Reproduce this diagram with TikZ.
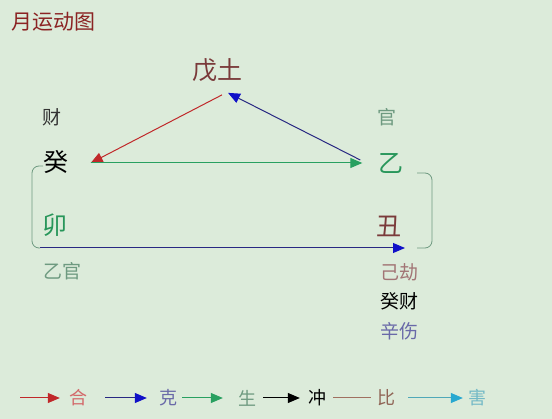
\documentclass[tikz,border=0pt]{standalone}
\usepackage{fontspec}
\setmainfont{Noto Sans CJK SC}
\usetikzlibrary{arrows.meta,calc}

\definecolor{bgmint}{RGB}{220,235,218}
\definecolor{titlered}{RGB}{139,35,35}
\definecolor{earthbrown}{RGB}{122,58,58}
\definecolor{woodgreen}{RGB}{40,150,90}
\definecolor{palegreen}{RGB}{110,154,128}
\definecolor{hered}{RGB}{192,40,42}
\definecolor{kenavy}{RGB}{40,40,130}
\definecolor{keblue}{RGB}{16,16,200}
\definecolor{shenggreen}{RGB}{40,160,96}
\definecolor{bibrown}{RGB}{160,112,96}
\definecolor{haicyan}{RGB}{80,168,184}
\definecolor{haihead}{RGB}{40,168,208}

\begin{document}
\begin{tikzpicture}[x=1pt,y=-1pt,
        big/.style={font=\fontsize{25}{25}\selectfont,inner sep=1pt},
        small/.style={font=\fontsize{19}{19}\selectfont,inner sep=1pt},
        legendtxt/.style={font=\fontsize{18}{18}\selectfont,inner sep=1pt},
        arrHe/.style={hered,line width=1pt,-{Triangle[length=12pt,width=10pt,color=hered]}},
        arrKe/.style={kenavy,line width=1pt,-{Triangle[length=12pt,width=10pt,color=keblue]}},
        arrSheng/.style={shenggreen,line width=1pt,-{Triangle[length=12pt,width=10pt]}},
        arrChong/.style={black,line width=1pt,-{Triangle[length=12pt,width=10pt]}},
        lineBi/.style={bibrown,line width=1pt},
        arrHai/.style={haicyan,line width=1pt,-{Triangle[length=12pt,width=10pt,color=haihead]}},
        brk/.style={palegreen,line width=0.8pt,rounded corners=7pt}]

        \fill[bgmint] (0,0) rectangle (552,419);
        \useasboundingbox (0,0) rectangle (552,419);

        \node[font=\fontsize{21}{21}\selectfont,text=titlered] (title) at (54,22) {月运动图};

        \node[big,text=earthbrown] (wutu) at (217,70) {戊土};
        \node[small,text=black!80] (cai) at (52,117) {财};
        \node[big,text=black] (gui) at (56,162) {癸};
        \node[small,text=palegreen] (guan) at (387,117) {官};
        \node[big,text=woodgreen] (yi) at (391,163) {乙};
        \node[big,text=woodgreen] (mao) at (55,225) {卯};
        \node[big,text=earthbrown] (chou) at (389,226) {丑};

        \node[small,text=palegreen] (yiguan) at (62,271) {乙官};
        \node[small,text=earthbrown!70] (jijie) at (399,272) {己劫};
        \node[small,text=black] (guicai) at (399,301) {癸财};
        \node[small,text=kenavy!70] (xinshang) at (399,331) {辛伤};

        \draw[arrHe] ($(wutu.south)+(5,12)$) -- ($(gui.east)+(21,1)$);
        \draw[arrKe] ($(yi.west)+(-17,-3)$) -- ($(wutu.south)+(11,10)$);
        \draw[arrSheng] ($(gui.east)+(21,1)$) -- ($(yi.west)+(-15,0)$);

        \coordinate (lowL) at (40,248);
        \coordinate (lowR) at (405,248);
        \draw[arrKe] (lowL) -- (lowR);

        \draw[brk] (43,166) -- (32,166) -- (32,248) -- (lowL);
        \draw[brk] (417,173) -- (432,173) -- (432,248) -- (417,248);

        \node[legendtxt,text=hered!70] (he) at (78,398) {合};
        \node[legendtxt,text=kenavy!70] (ke) at (168,398) {克};
        \node[legendtxt,text=palegreen] (sheng) at (247,398) {生};
        \node[legendtxt,text=black] (chong) at (317,398) {冲};
        \node[legendtxt,text=bibrown!90!black] (bi) at (386,398) {比};
        \node[legendtxt,text=haicyan!80] (hai) at (477,398) {害};

        \coordinate (heL) at (20,398);
        \coordinate (keL) at (105,398);
        \coordinate (shengL) at (182,398);
        \coordinate (chongL) at (263,398);
        \coordinate (biL) at (333,398);
        \coordinate (haiL) at (408,398);

        \draw[arrHe] (heL) -- ($(he.west)+(-8,0)$);
        \draw[arrKe] (keL) -- ($(ke.west)+(-11,0)$);
        \draw[arrSheng] (shengL) -- ($(sheng.west)+(-14,0)$);
        \draw[arrChong] (chongL) -- ($(chong.west)+(-7,0)$);
        \draw[lineBi] (biL) -- ($(bi.west)+(-5,0)$);
        \draw[arrHai] (haiL) -- ($(hai.west)+(-4,0)$);

\end{tikzpicture}
\end{document}
